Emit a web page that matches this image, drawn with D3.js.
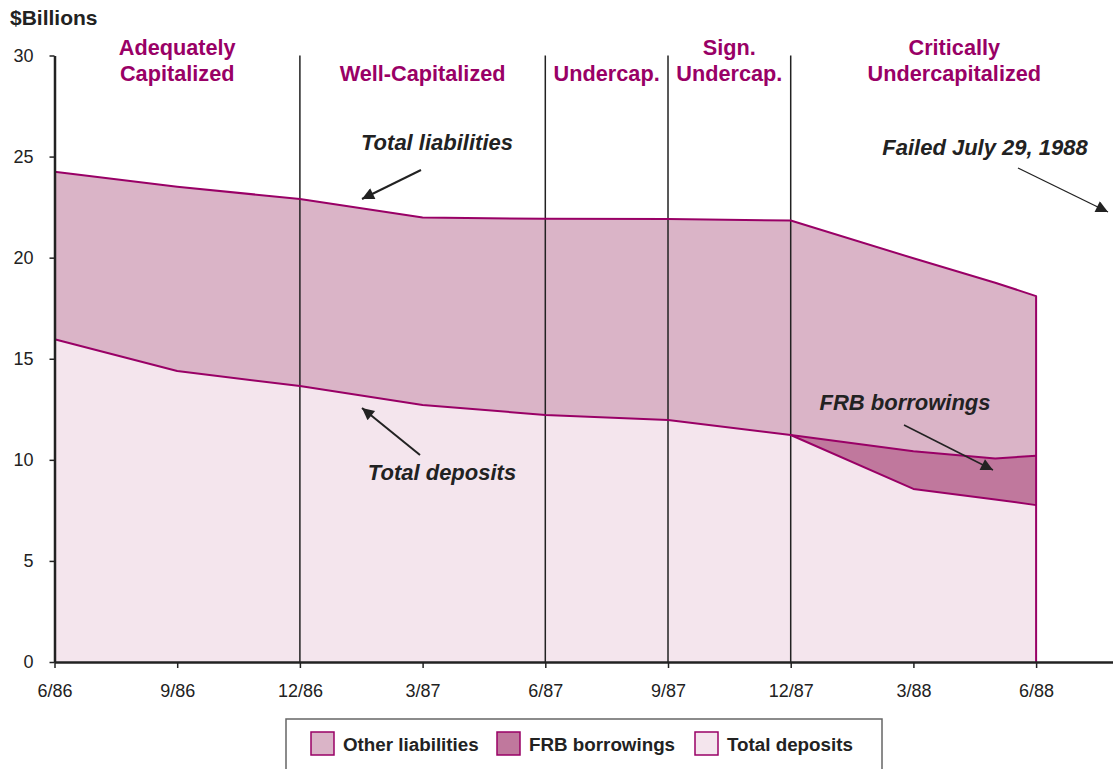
<!DOCTYPE html>
<html>
<head>
<meta charset="utf-8">
<script src="https://cdn.jsdelivr.net/npm/d3@7"></script>
<style>
  html, body { margin: 0; padding: 0; background: #fff; }
  svg { display: block; font-family: "Liberation Sans", Arial, sans-serif; }
</style>
</head>
<body>
<div id="chart"></div>
<script>
'use strict';

// months counted from 6/86
var months = [0, 3, 6, 9, 12, 15, 18, 21, 23, 24];
var totalLiabilities = [24.25, 23.51, 22.9, 21.99, 21.92, 21.91, 21.84, 19.97, 18.76, 18.1];
var totalDeposits = [15.96, 14.39, 13.65, 12.71, 12.22, 11.97, 11.23, 8.56, 8.04, 7.76];
var frbBorrowings = [0, 0, 0, 0, 0, 0, 0, 1.87, 2.03, 2.44];

var tickMonths = [0, 3, 6, 9, 12, 15, 18, 21, 24];
var tickLabels = ['6/86', '9/86', '12/86', '3/87', '6/87', '9/87', '12/87', '3/88', '6/88'];
var yTicks = [0, 5, 10, 15, 20, 25, 30];

var dividerMonths = [6, 12, 15, 18];
var regimeLabels = [['Adequately', 'Capitalized'], ['Well-Capitalized'], ['Undercap.'], ['Sign.', 'Undercap.'], ['Critically', 'Undercapitalized']];
var regimeCenters = [3, 9, 13.5, 16.5, 22];

var legendLabels = ['Other liabilities', 'FRB borrowings', 'Total deposits'];

var magenta = '#990066';
var fills = { other: '#dab4c7', frb: '#c0789d', deposits: '#f4e5ed' };

var width = 1113, height = 769;

var svg = d3.select('#chart').append('svg')
  .attr('width', width)
  .attr('height', height);

var x = d3.scaleLinear().domain([0, 25.88]).range([54.5, 1113]);
var y = d3.scaleLinear().domain([0, 30]).range([662, 55.5]);

// build table for stacking
var table = months.map(function(m, i) {
  return {
    month: m,
    deposits: totalDeposits[i],
    frb: frbBorrowings[i],
    other: totalLiabilities[i] - totalDeposits[i] - frbBorrowings[i]
  };
});

var stack = d3.stack().keys(['deposits', 'frb', 'other']);
var series = stack(table);

var area = d3.area()
  .x(function(d) { return x(d.data.month); })
  .y0(function(d) { return y(d[0]); })
  .y1(function(d) { return y(d[1]); });

svg.append('g').selectAll('path')
  .data(series)
  .enter()
  .append('path')
  .attr('d', area)
  .attr('fill', function(d) { return fills[d.key]; });

// divider lines between capital categories
svg.append('g').selectAll('line')
  .data(dividerMonths)
  .enter()
  .append('line')
  .attr('x1', function(d) { return x(d); })
  .attr('x2', function(d) { return x(d); })
  .attr('y1', y(30))
  .attr('y2', y(0))
  .attr('stroke', '#222')
  .attr('stroke-width', 1.5);

// outline lines
var line = d3.line()
  .x(function(d) { return x(d[0]); })
  .y(function(d) { return y(d[1]); });

var last = months.length - 1;
var totalPts = months.map(function(m, i) { return [m, totalLiabilities[i]]; });
totalPts.push([months[last], 0]);
var depositPts = months.map(function(m, i) { return [m, totalDeposits[i]]; });
var frbPts = months.map(function(m, i) { return [m, totalDeposits[i] + frbBorrowings[i]]; })
  .filter(function(d) { return d[0] >= 18; });

svg.append('g').selectAll('path')
  .data([totalPts, depositPts, frbPts])
  .enter()
  .append('path')
  .attr('d', line)
  .attr('fill', 'none')
  .attr('stroke', magenta)
  .attr('stroke-width', 2)
  .attr('stroke-linejoin', 'round');

// axes
var xAxis = svg.append('g')
  .attr('transform', 'translate(0,' + y(0) + ')')
  .call(d3.axisBottom(x).tickValues(tickMonths).tickSize(6).tickSizeOuter(0)
    .tickFormat(function(d, i) { return tickLabels[i]; }));
xAxis.select('.domain').attr('stroke', '#222').attr('stroke-width', 2.5);
xAxis.selectAll('.tick line').attr('stroke', '#222').attr('stroke-width', 1.5);
xAxis.selectAll('.tick text')
  .attr('y', 34.5).attr('dy', null)
  .attr('font-size', 18).attr('fill', '#222')
  .attr('font-family', '"Liberation Sans", Arial, sans-serif');

var yAxis = svg.append('g')
  .attr('transform', 'translate(' + x(0) + ',0)')
  .call(d3.axisLeft(y).tickValues(yTicks).tickSize(5).tickPadding(16).tickSizeOuter(0));
yAxis.select('.domain').attr('stroke', '#222').attr('stroke-width', 2.5);
yAxis.selectAll('.tick line').attr('stroke', '#222').attr('stroke-width', 1.5);
yAxis.selectAll('.tick text')
  .attr('font-size', 18).attr('fill', '#222')
  .attr('font-family', '"Liberation Sans", Arial, sans-serif');

// title
svg.append('text')
  .attr('x', 10)
  .attr('y', 25)
  .attr('font-size', 21)
  .attr('font-weight', 'bold')
  .attr('fill', '#222')
  .text('$Billions');

// regime labels
regimeLabels.forEach(function(lines, i) {
  var t = svg.append('text')
    .attr('text-anchor', 'middle')
    .attr('font-size', 21.7)
    .attr('font-weight', 'bold')
    .attr('fill', magenta);
  var startY = lines.length === 2 ? 55 : 80.5;
  lines.forEach(function(s, j) {
    t.append('tspan')
      .attr('x', x(regimeCenters[i]))
      .attr('y', startY + j * 25.5)
      .text(s);
  });
});

// arrow marker
svg.append('defs').append('marker')
  .attr('id', 'arrow')
  .attr('viewBox', '0 0 10 10')
  .attr('refX', 10)
  .attr('refY', 5)
  .attr('markerUnits', 'userSpaceOnUse')
  .attr('markerWidth', 14)
  .attr('markerHeight', 12)
  .attr('orient', 'auto')
  .append('path')
  .attr('d', 'M0,0L10,5L0,10Z')
  .attr('fill', '#222');

// annotations
var notes = [
  { text: 'Total liabilities', tx: 437, ty: 150, x1: 421, y1: 170, x2: 362, y2: 199, w: 2 },
  { text: 'Total deposits', tx: 442, ty: 480, x1: 420, y1: 455, x2: 362, y2: 408, w: 2 },
  { text: 'FRB borrowings', tx: 905, ty: 410, x1: 904, y1: 425, x2: 993, y2: 470, w: 1.5 },
  { text: 'Failed July 29, 1988', tx: 985, ty: 155, x1: 1018, y1: 168, x2: 1108, y2: 212, w: 1.3 }
];

notes.forEach(function(n) {
  svg.append('text')
    .attr('x', n.tx)
    .attr('y', n.ty)
    .attr('text-anchor', 'middle')
    .attr('font-size', 22)
    .attr('font-weight', 'bold')
    .attr('font-style', 'italic')
    .attr('fill', '#222')
    .text(n.text);
  svg.append('line')
    .attr('x1', n.x1).attr('y1', n.y1)
    .attr('x2', n.x2).attr('y2', n.y2)
    .attr('stroke', '#222')
    .attr('stroke-width', n.w)
    .attr('marker-end', 'url(#arrow)');
});

// legend
var legend = svg.append('g');
legend.append('rect')
  .attr('x', 286)
  .attr('y', 719)
  .attr('width', 596)
  .attr('height', 70)
  .attr('fill', '#fff')
  .attr('stroke', '#666')
  .attr('stroke-width', 1.5);

var legendX = [311, 497, 695];
var legendFills = [fills.other, fills.frb, fills.deposits];
legendLabels.forEach(function(label, i) {
  legend.append('rect')
    .attr('x', legendX[i])
    .attr('y', 732)
    .attr('width', 23)
    .attr('height', 23)
    .attr('fill', legendFills[i])
    .attr('stroke', magenta)
    .attr('stroke-width', 1.5);
  legend.append('text')
    .attr('x', legendX[i] + 32)
    .attr('y', 750.5)
    .attr('font-size', 18.8)
    .attr('font-weight', 'bold')
    .attr('fill', '#222')
    .text(label);
});
</script>
</body>
</html>
